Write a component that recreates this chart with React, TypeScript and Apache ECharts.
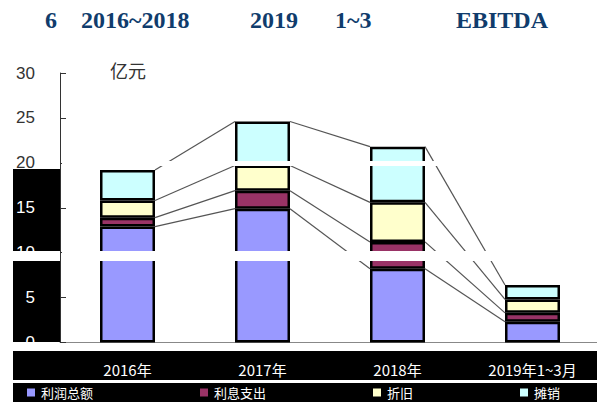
import React, { useEffect, useRef } from "react";
import * as echarts from "echarts";

const categories = ["2016年", "2017年", "2018年", "2019年1~3月"];
const profit = [12.9, 14.9, 8.2, 2.3];
const interest = [1.0, 2.0, 3.0, 1.0];
const depreciation = [1.9, 2.8, 4.4, 1.5];
const amortization = [3.4, 4.9, 6.2, 1.6];
const seriesNames = ["利润总额", "利息支出", "折旧", "摊销"];
const seriesColors = ["#9999FF", "#993366", "#FFFFCC", "#CCFFFF"];
const yTicks = { min: 0, max: 30, interval: 5 };

const BAR_W = 55;

export default function App() {
  const ref = useRef<HTMLDivElement>(null);
  useEffect(() => {
    if (!ref.current) return;
    const chart = echarts.init(ref.current, null, { renderer: "svg" });
    const layers = [profit, interest, depreciation, amortization];
    const cum: number[][] = [];
    layers.forEach((arr, k) => {
      cum.push(arr.map((v, i) => (k === 0 ? v : cum[k - 1][i] + v)));
    });
    const serif = "'Liberation Serif', 'Times New Roman', serif";
    const titleColor = "#103C6C";
    const titleParts: [string, number][] = [
      ["6", 45],
      ["2016~2018", 81],
      ["2019", 250],
      ["1~3", 335],
      ["EBITDA", 456],
    ];
    const option: any = {
      animation: false,
      backgroundColor: "#fff",
      grid: { left: 60, right: 5, top: 73, bottom: 67.5, containLabel: false },
      legend: {
        data: seriesNames,
        left: 20,
        bottom: 6,
        icon: "rect",
        itemWidth: 10,
        itemHeight: 10,
        itemGap: 105,
        textStyle: { color: "#fff", fontSize: 13, fontFamily: "'Noto Sans CJK SC', sans-serif" },
      },
      xAxis: {
        type: "category",
        data: categories,
        axisLine: { lineStyle: { color: "#888", width: 1 } },
        axisTick: { show: false },
        axisLabel: {
          color: "#fff",
          fontSize: 15,
          margin: 19,
          fontFamily: "'Noto Sans CJK SC', sans-serif",
        },
      },
      yAxis: {
        type: "value",
        min: yTicks.min,
        max: yTicks.max,
        interval: yTicks.interval,
        splitLine: { show: false },
        axisLine: { show: true, lineStyle: { color: "#333", width: 1 } },
        axisTick: { show: true, inside: true, length: 6, lineStyle: { color: "#333" } },
        axisLabel: {
          margin: 25,
          fontSize: 17,
          fontFamily: "'Liberation Sans', Arial, sans-serif",
          formatter: (v: number) => (v >= 20 ? "{d|" + v + "}" : "{w|" + v + "}"),
          rich: {
            d: { color: "#333", fontSize: 17, fontFamily: "'Liberation Sans', Arial, sans-serif" },
            w: { color: "#fff", fontSize: 17, fontFamily: "'Liberation Sans', Arial, sans-serif" },
          },
        },
      },
      graphic: [
        { type: "rect", z: -10, shape: { x: 13, y: 169, width: 47, height: 82 }, style: { fill: "#000" } },
        { type: "rect", z: -10, shape: { x: 13, y: 261, width: 47, height: 81 }, style: { fill: "#000" } },
        { type: "rect", z: -10, shape: { x: 13, y: 351, width: 592, height: 29 }, style: { fill: "#000" } },
        { type: "rect", z: -10, shape: { x: 13, y: 383, width: 592, height: 27 }, style: { fill: "#000" } },
        { type: "rect", z: 100, shape: { x: 601, y: 170, width: 4, height: 80 }, style: { fill: "#000" } },
        { type: "rect", z: 100, shape: { x: 601, y: 260, width: 4, height: 82 }, style: { fill: "#000" } },
        { type: "rect", z: 100, shape: { x: 62, y: 161, width: 543, height: 5 }, style: { fill: "#fff" } },
        { type: "rect", z: 100, shape: { x: 62, y: 251, width: 539, height: 10 }, style: { fill: "#fff" } },
        {
          type: "text",
          x: 110,
          y: 70,
          style: {
            text: "亿元",
            fill: "#333",
            fontSize: 18,
            fontFamily: "'Noto Sans CJK SC', sans-serif",
            textVerticalAlign: "middle",
          },
        },
        ...titleParts.map(([t, x]) => ({
          type: "text",
          x,
          y: 20,
          style: {
            text: t,
            fill: titleColor,
            fontSize: 24,
            fontWeight: "bold",
            fontFamily: serif,
            textVerticalAlign: "middle",
          },
        })),
      ],
      series: [
        ...layers.map((arr, k) => ({
          name: seriesNames[k],
          type: "bar",
          stack: "total",
          barWidth: BAR_W,
          data: arr,
          itemStyle: { color: seriesColors[k], borderColor: "#000", borderWidth: 2.5 },
        })),
        {
          type: "custom",
          name: "connectors",
          data: categories.slice(0, categories.length - 1).map((_, i) => [i, 0]),
          encode: { x: 0, y: 1 },
          clip: false,
          silent: true,
          z: 1,
          renderItem: (params: any, api: any) => {
            const i = api.value(0);
            const children: any[] = [];
            for (let k = 0; k < cum.length; k++) {
              const a = api.coord([i, cum[k][i]]);
              const b = api.coord([i + 1, cum[k][i + 1]]);
              children.push({
                type: "line",
                shape: { x1: a[0] + BAR_W / 2, y1: a[1], x2: b[0] - BAR_W / 2, y2: b[1] },
                style: { stroke: "#555", lineWidth: 1.2 },
              });
            }
            return { type: "group", children };
          },
        },
      ],
    };
    chart.setOption(option);
    return () => chart.dispose();
  }, []);
  return <div ref={ref} style={{ width: 605, height: 410, margin: -8 }} />;
}
